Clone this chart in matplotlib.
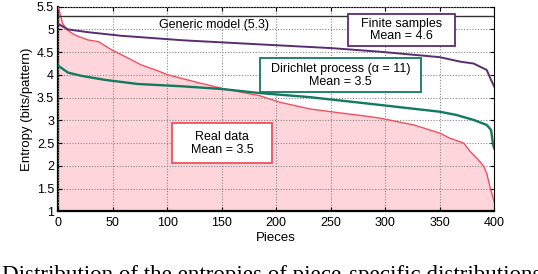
import matplotlib
matplotlib.use("Agg")
import matplotlib.pyplot as plt
from matplotlib.patches import Rectangle

plt.rcParams['font.family'] = ['Liberation Sans', 'DejaVu Sans']

# Real data (sorted entropies per piece)
real_x = [0, 1, 4, 8, 15, 27, 37, 49, 64, 76, 89, 101, 112, 130, 151, 170, 185,
          203, 231, 260, 280, 295, 326, 350, 359, 372, 378, 384, 390, 393, 396, 400]
real_y = [5.5, 5.4, 5.13, 4.99, 4.88, 4.77, 4.73, 4.55, 4.37, 4.22, 4.11, 4.00,
          3.93, 3.82, 3.70, 3.61, 3.54, 3.40, 3.25, 3.16, 3.10, 3.05, 2.90, 2.72,
          2.61, 2.50, 2.31, 2.17, 2.00, 1.84, 1.54, 1.2]

# Finite samples
fin_x = [0, 9, 27, 58, 115, 194, 250, 295, 350, 369, 381, 393, 397, 400]
fin_y = [5.12, 5.00, 4.94, 4.86, 4.76, 4.66, 4.59, 4.51, 4.39, 4.29, 4.25, 4.11,
         3.89, 3.74]

# Dirichlet process
dp_x = [0, 9, 21, 43, 73, 113, 150, 185, 231, 295, 350, 365, 381, 393, 397, 399, 400]
dp_y = [4.20, 4.05, 3.98, 3.89, 3.80, 3.75, 3.69, 3.60, 3.51, 3.34, 3.19, 3.12,
        3.01, 2.90, 2.79, 2.45, 2.38]

generic_value = 5.3

x_ticks = [0, 50, 100, 150, 200, 250, 300, 350, 400]
y_ticks = [1, 1.5, 2, 2.5, 3, 3.5, 4, 4.5, 5, 5.5]
y_tick_labels = ['1', '1.5', '2', '2.5', '3', '3.5', '4', '4.5', '5', '5.5']

red = '#f0505f'
pink = '#fdd5da'
purple = '#5a2d6e'
green = '#127a5f'

fig = plt.figure(figsize=(5.38, 2.74), dpi=100)
W, H = 538, 274
l, r, t, b = 58.3, 494.3, 6.7, 211.3
ax = fig.add_axes([l / W, 1 - b / H, (r - l) / W, (b - t) / H])

ax.fill_between(real_x, 1, real_y, color=pink, lw=0, zorder=1)
ax.grid(True, linestyle=(0, (1, 1.5)), color='#888888', lw=0.8, zorder=2)
ax.set_axisbelow(False)
ax.plot(real_x, real_y, color=red, lw=1.0, zorder=3)
ax.plot(fin_x, fin_y, color=purple, lw=1.4, zorder=3)
ax.plot(dp_x, dp_y, color=green, lw=1.7, zorder=3)
ax.axhline(generic_value, color='#333333', lw=1.0, zorder=3)

ax.set_xlim(0, 400)
ax.set_ylim(1, 5.5)
ax.set_xticks(x_ticks)
ax.set_yticks(y_ticks)
ax.set_yticklabels(y_tick_labels)
ax.tick_params(direction='in', length=3, width=0.8, labelsize=9, top=True, right=True)
ax.tick_params(axis='x', pad=4)
ax.tick_params(axis='y', pad=3)

for s in ['left', 'bottom']:
    ax.spines[s].set_linewidth(1.6)
for s in ['top', 'right']:
    ax.spines[s].set_linewidth(0.8)

ax.set_xlabel('Pieces', fontsize=9.5, labelpad=2)
ax.set_ylabel('Entropy (bits/pattern)', fontsize=9.5, labelpad=3)

ax.text(0.358, 0.912, 'Generic model (5.3)', transform=ax.transAxes,
        ha='center', va='center', fontsize=9, zorder=5)

def box(x0, x1, y0, y1, txt, ec):
    ax.add_patch(Rectangle((x0, y0), x1 - x0, y1 - y0, transform=ax.transAxes,
                           fc='white', ec=ec, lw=1.3, zorder=6))
    ax.text((x0 + x1) / 2, (y0 + y1) / 2, txt, transform=ax.transAxes,
            ha='center', va='center', fontsize=9, zorder=7, linespacing=1.1)

box(0.664, 0.910, 0.808, 0.964, 'Finite samples\nMean = 4.6', purple)
box(0.463, 0.832, 0.582, 0.748, 'Dirichlet process (α = 11)\nMean = 3.5', green)
box(0.261, 0.490, 0.235, 0.430, 'Real data\nMean = 3.5', red)

fig.text(2 / W, 1 - 281 / H, 'Distribution of the entropies of piece-specific distributions',
         family='Liberation Serif', fontsize=16.6, ha='left', va='baseline')

fig.savefig('out.png', dpi=100)
